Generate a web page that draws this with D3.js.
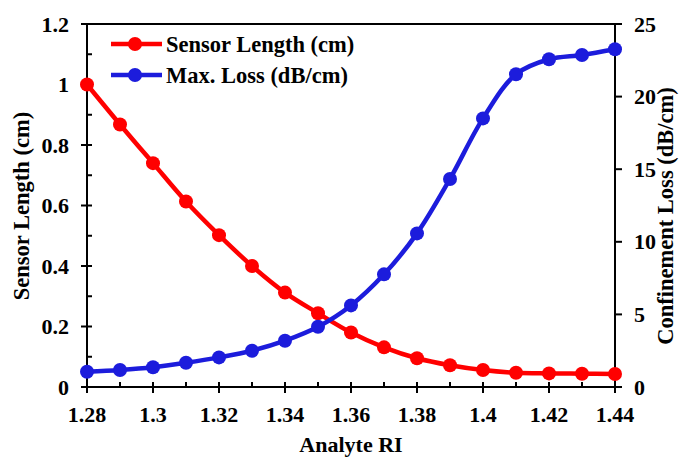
<!DOCTYPE html>
<html><head><meta charset="utf-8">
<script src="https://cdn.jsdelivr.net/npm/d3@7"></script>
<style>body{margin:0;background:#fff;} text{font-family:"Liberation Serif","Times New Roman",serif;font-weight:bold;fill:#000;}</style>
</head><body>
<svg id="c" width="690" height="458"></svg>
<script>
const analyteRI = [1.28,1.29,1.30,1.31,1.32,1.33,1.34,1.35,1.36,1.37,1.38,1.39,1.40,1.41,1.42,1.43,1.44];
const sensorLength = [1.0,0.868,0.74,0.613,0.502,0.40,0.312,0.244,0.18,0.131,0.095,0.072,0.056,0.047,0.045,0.044,0.043];
const maxLoss = [1.05,1.17,1.36,1.67,2.04,2.5,3.19,4.15,5.62,7.76,10.58,14.33,18.5,21.54,22.57,22.87,23.26];
const xTicks = [1.28,1.30,1.32,1.34,1.36,1.38,1.40,1.42,1.44];
const xTickLabels = ["1.28","1.3","1.32","1.34","1.36","1.38","1.4","1.42","1.44"];
const leftTicks = [0,0.2,0.4,0.6,0.8,1,1.2];
const leftTickLabels = ["0","0.2","0.4","0.6","0.8","1","1.2"];
const rightTicks = [0,5,10,15,20,25];
const seriesNames = ["Sensor Length (cm)","Max. Loss (dB/cm)"];
const colors = ["#ff0000","#1c1cdc"];

const L=87,R=615,T=24,B=387;
const svg=d3.select("#c");
const x=d3.scaleLinear().domain([1.28,1.44]).range([L,R]);
const yL=d3.scaleLinear().domain([0,1.2]).range([B,T]);
const yR=d3.scaleLinear().domain([0,25]).range([B,T]);

const g=svg.append("g").attr("stroke","#000").attr("stroke-width",2);
g.append("line").attr("x1",L).attr("x2",R).attr("y1",T).attr("y2",T);
g.append("line").attr("x1",L).attr("x2",R).attr("y1",B).attr("y2",B);
g.append("line").attr("x1",L).attr("x2",L).attr("y1",T).attr("y2",B);
g.append("line").attr("x1",R).attr("x2",R).attr("y1",T).attr("y2",B);

const minorX=d3.range(0,17).map(i=>1.28+i*0.01);
minorX.forEach((v,i)=>{
  const major=i%2===0;
  g.append("line").attr("x1",x(v)).attr("x2",x(v)).attr("y1",B-5).attr("y2",major?B+6:B);
});
xTicks.forEach((v,i)=>{
  svg.append("text").attr("x",x(v)).attr("y",B+35).attr("text-anchor","middle").attr("font-size",22).text(xTickLabels[i]);
});
d3.range(0,13).forEach(i=>{
  const v=i*0.1, major=i%2===0;
  g.append("line").attr("x1",major?L-6:L).attr("x2",L+5).attr("y1",yL(v)).attr("y2",yL(v));
});
leftTicks.forEach((v,i)=>{
  svg.append("text").attr("x",69).attr("y",yL(v)+7.5).attr("text-anchor","end").attr("font-size",22).text(leftTickLabels[i]);
});
rightTicks.forEach(v=>{
  g.append("line").attr("x1",R).attr("x2",R+7).attr("y1",yR(v)).attr("y2",yR(v));
  svg.append("text").attr("x",634).attr("y",yR(v)+7.5).attr("text-anchor","start").attr("font-size",22).text(v);
});

svg.append("text").attr("x",(L+R)/2).attr("y",452).attr("text-anchor","middle").attr("font-size",22).text("Analyte RI");
svg.append("text").attr("transform","translate(29,206) rotate(-90)").attr("text-anchor","middle").attr("font-size",22.5).text("Sensor Length (cm)");
svg.append("text").attr("transform","translate(673,216) rotate(-90)").attr("text-anchor","middle").attr("font-size",22.5).text("Confinement Loss (dB/cm)");

const s1=analyteRI.map((v,i)=>[x(v),yL(sensorLength[i])]);
const s2=analyteRI.map((v,i)=>[x(v),yR(maxLoss[i])]);
const line=d3.line().curve(d3.curveCatmullRom.alpha(0.5));
[s1,s2].forEach((pts,k)=>{
  svg.append("path").attr("d",line(pts)).attr("fill","none").attr("stroke",colors[k]).attr("stroke-width",4.5);
  svg.append("g").selectAll("circle").data(pts).join("circle").attr("cx",d=>d[0]).attr("cy",d=>d[1]).attr("r",7).attr("fill",colors[k]);
});

const legY=[44,75];
seriesNames.forEach((n,k)=>{
  svg.append("line").attr("x1",111).attr("x2",162).attr("y1",legY[k]).attr("y2",legY[k]).attr("stroke",colors[k]).attr("stroke-width",4.5);
  svg.append("circle").attr("cx",135).attr("cy",legY[k]).attr("r",7).attr("fill",colors[k]);
  svg.append("text").attr("x",166).attr("y",legY[k]+7.5).attr("font-size",22.5).text(n);
});
</script>
</body></html>
